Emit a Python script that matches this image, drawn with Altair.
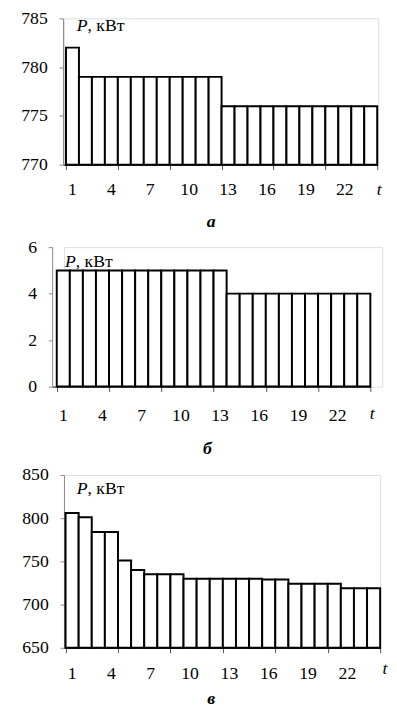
import altair as alt
import pandas as pd

# ---- data ----
hours = list(range(1, 25))
p_a = [782, 779, 779, 779, 779, 779, 779, 779, 779, 779, 779, 779,
       776, 776, 776, 776, 776, 776, 776, 776, 776, 776, 776, 776]
p_b = [5, 5, 5, 5, 5, 5, 5, 5, 5, 5, 5, 5, 5,
       4, 4, 4, 4, 4, 4, 4, 4, 4, 4, 4]
p_c = [806, 801, 784, 784, 751, 740, 735, 735, 735, 730, 730, 730,
       730, 730, 730, 729, 729, 724, 724, 724, 724, 719, 719, 719]
x_tick_labels = [1, 4, 7, 10, 13, 16, 19, 22]
y_ticks_a = [770, 775, 780, 785]
y_ticks_b = [0, 2, 4, 6]
y_ticks_c = [650, 700, 750, 800, 850]
panel_labels = ["а", "б", "в"]
unit_label = ", кВт"

FONT = "Liberation Serif"
FS = 18
EXTENT = 56


def panel(values, yticks, label, w, h, xmin, xr0, px, py, tx, ty, lx, ly, xl_y):
    base = yticks[0]
    df = pd.DataFrame({"t": hours, "p": values})
    df["x0"] = df["t"] - 1
    df["base"] = base
    xs = alt.Scale(domain=[xmin, 24], range=[xr0, xr0 + w], nice=False, zero=False)
    ys = alt.Scale(domain=[yticks[0], yticks[-1]], nice=False, zero=False)

    bars = alt.Chart(df).mark_bar(
        fill="white", stroke="black", strokeWidth=2
    ).encode(
        x=alt.X("x0:Q", scale=xs,
                axis=alt.Axis(values=list(range(0, 25)), labels=False, title=None,
                              domainColor="black", domainWidth=1, tickColor="#555",
                              tickWidth=1, tickSize=5, grid=False)),
        x2="t:Q",
        y=alt.Y("p:Q", scale=ys,
                axis=alt.Axis(values=yticks, title=None, grid=False, offset=-xr0,
                              domainColor="#888", domainWidth=1, tickColor="#888",
                              tickWidth=1, tickSize=4, labelPadding=12,
                              labelFont=FONT, labelFontSize=FS, labelColor="black",
                              minExtent=EXTENT + xr0, maxExtent=EXTENT + xr0)),
        y2="base:Q",
    )

    lab_df = pd.DataFrame({"lab": x_tick_labels})
    lab_df["pos"] = lab_df["lab"] - 0.5
    xlabels = alt.Chart(lab_df).mark_text(
        font=FONT, fontSize=FS, baseline="middle", align="center", color="black"
    ).encode(x=alt.X("pos:Q", scale=xs), y=alt.value(xl_y), text="lab:N")

    tlab = alt.Chart(pd.DataFrame({"s": ["t"]})).mark_text(
        font=FONT, fontSize=FS, fontStyle="italic", baseline="middle", align="center",
        color="black"
    ).encode(x=alt.value(tx), y=alt.value(ty), text="s:N")

    plab = alt.Chart(pd.DataFrame({"s": ["P"]})).mark_text(
        font=FONT, fontSize=FS, fontStyle="italic", baseline="alphabetic", align="left",
        color="black"
    ).encode(x=alt.value(px), y=alt.value(py), text="s:N")

    ulab = alt.Chart(pd.DataFrame({"s": [unit_label]})).mark_text(
        font=FONT, fontSize=FS, baseline="alphabetic", align="left", color="black"
    ).encode(x=alt.value(px + 11), y=alt.value(py), text="s:N")

    sub = alt.Chart(pd.DataFrame({"s": [label]})).mark_text(
        font=FONT, fontSize=FS, fontStyle="italic", fontWeight="bold",
        baseline="alphabetic", align="center", color="black"
    ).encode(x=alt.value(lx), y=alt.value(ly), text="s:N")

    return alt.layer(bars, xlabels, tlab, plab, ulab, sub).properties(width=w, height=h)


pa = panel(p_a, y_ticks_a, panel_labels[0], 320, 149, -0.23, -1,
           13, 13, 321, 149 + 26, 150, 149 + 63, 149 + 26)
pb = panel(p_b, y_ticks_b, panel_labels[1], 324, 142, -0.35, -12,
           1, 20, 314, 142 + 28, 146, 142 + 69, 142 + 30)
pc = panel(p_c, y_ticks_c, panel_labels[2], 322, 176, -0.12, 0,
           13, 19, 327, 176 + 22, 150, 176 + 57, 176 + 27)

chart = alt.vconcat(alt.vconcat(pa, pb, spacing=6), pc, spacing=6).properties(
    padding={"left": 0, "top": -6, "right": 0, "bottom": 6}
).configure_view(stroke=None).configure(background="white")

chart.save("out.html", embed_options={"renderer": "svg", "actions": False})
